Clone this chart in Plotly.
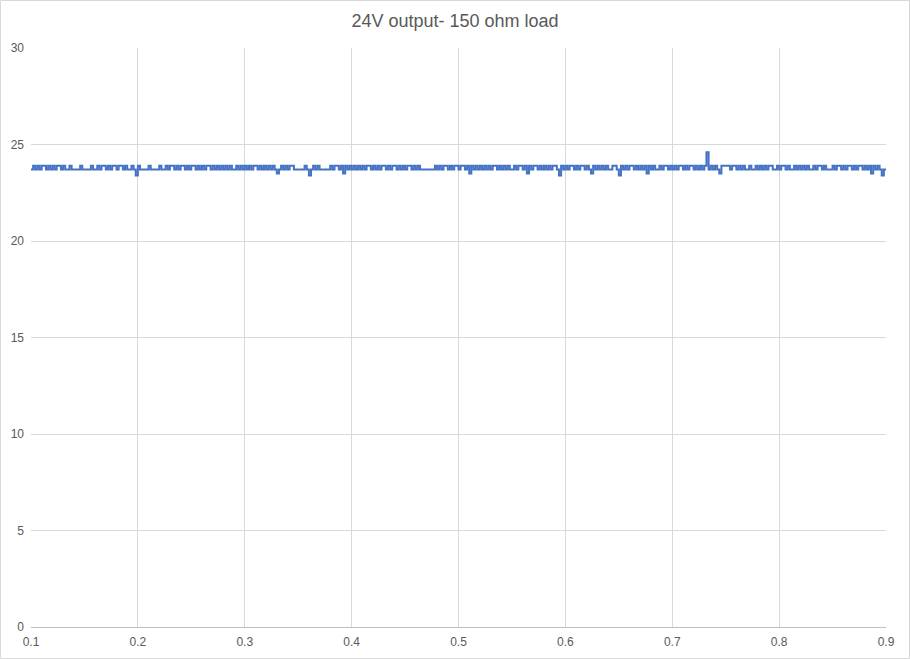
import plotly.graph_objects as go

title_text = "24V output- 150 ohm load"
x_start = 0.1
x_step = 0.002

voltage = [
    23.7, 23.9, 23.7, 23.9, 23.7, 23.9, 23.9, 23.7, 23.9, 23.7,
    23.9, 23.7, 23.9, 23.9, 23.7, 23.9, 23.7, 23.7, 23.9, 23.7,
    23.7, 23.7, 23.7, 23.9, 23.7, 23.7, 23.7, 23.7, 23.9, 23.7,
    23.7, 23.9, 23.7, 23.9, 23.9, 23.7, 23.9, 23.7, 23.9, 23.9,
    23.7, 23.9, 23.9, 23.7, 23.9, 23.7, 23.7, 23.9, 23.7, 23.4,
    23.9, 23.7, 23.7, 23.7, 23.7, 23.9, 23.7, 23.7, 23.7, 23.7,
    23.9, 23.7, 23.7, 23.9, 23.7, 23.9, 23.9, 23.7, 23.9, 23.7,
    23.9, 23.9, 23.7, 23.9, 23.7, 23.9, 23.9, 23.7, 23.9, 23.7,
    23.9, 23.7, 23.9, 23.9, 23.7, 23.9, 23.7, 23.9, 23.7, 23.9,
    23.7, 23.9, 23.7, 23.9, 23.7, 23.7, 23.9, 23.7, 23.9, 23.7,
    23.9, 23.7, 23.9, 23.7, 23.9, 23.9, 23.7, 23.9, 23.7, 23.9,
    23.7, 23.9, 23.7, 23.9, 23.7, 23.5, 23.7, 23.9, 23.7, 23.9,
    23.7, 23.9, 23.9, 23.7, 23.7, 23.7, 23.7, 23.7, 23.9, 23.7,
    23.4, 23.7, 23.9, 23.7, 23.9, 23.7, 23.7, 23.7, 23.7, 23.7,
    23.9, 23.7, 23.9, 23.9, 23.7, 23.9, 23.5, 23.9, 23.7, 23.9,
    23.7, 23.9, 23.7, 23.9, 23.7, 23.9, 23.7, 23.9, 23.9, 23.7,
    23.9, 23.7, 23.9, 23.7, 23.9, 23.9, 23.7, 23.9, 23.7, 23.9,
    23.9, 23.7, 23.9, 23.7, 23.9, 23.7, 23.9, 23.9, 23.7, 23.9,
    23.7, 23.9, 23.7, 23.7, 23.7, 23.7, 23.7, 23.7, 23.7, 23.9,
    23.7, 23.9, 23.7, 23.9, 23.9, 23.7, 23.9, 23.7, 23.9, 23.9,
    23.7, 23.9, 23.9, 23.7, 23.9, 23.5, 23.9, 23.7, 23.9, 23.7,
    23.9, 23.7, 23.9, 23.7, 23.9, 23.7, 23.9, 23.9, 23.7, 23.9,
    23.7, 23.9, 23.7, 23.9, 23.7, 23.7, 23.9, 23.7, 23.9, 23.9,
    23.7, 23.9, 23.5, 23.9, 23.7, 23.9, 23.9, 23.7, 23.9, 23.7,
    23.9, 23.7, 23.9, 23.7, 23.9, 23.9, 23.7, 23.4, 23.9, 23.7,
    23.9, 23.7, 23.9, 23.9, 23.7, 23.9, 23.7, 23.9, 23.9, 23.7,
    23.9, 23.7, 23.5, 23.9, 23.7, 23.9, 23.7, 23.9, 23.7, 23.9,
    23.7, 23.7, 23.9, 23.9, 23.7, 23.4, 23.9, 23.7, 23.9, 23.7,
    23.9, 23.9, 23.7, 23.9, 23.7, 23.9, 23.7, 23.9, 23.5, 23.9,
    23.7, 23.9, 23.7, 23.7, 23.9, 23.7, 23.9, 23.9, 23.7, 23.9,
    23.7, 23.9, 23.7, 23.9, 23.9, 23.7, 23.9, 23.7, 23.9, 23.9,
    23.7, 23.9, 23.7, 23.9, 23.7, 23.9, 24.6, 23.7, 23.9, 23.7,
    23.9, 23.7, 23.5, 23.9, 23.9, 23.9, 23.9, 23.7, 23.9, 23.9,
    23.7, 23.9, 23.7, 23.9, 23.7, 23.7, 23.9, 23.7, 23.7, 23.9,
    23.7, 23.9, 23.7, 23.9, 23.7, 23.9, 23.9, 23.7, 23.7, 23.9,
    23.7, 23.9, 23.9, 23.7, 23.9, 23.7, 23.7, 23.9, 23.7, 23.9,
    23.7, 23.9, 23.7, 23.9, 23.7, 23.7, 23.9, 23.7, 23.9, 23.9,
    23.7, 23.9, 23.7, 23.7, 23.7, 23.9, 23.7, 23.9, 23.9, 23.7,
    23.9, 23.7, 23.9, 23.9, 23.7, 23.9, 23.7, 23.9, 23.9, 23.7,
    23.9, 23.7, 23.9, 23.5, 23.9, 23.7, 23.9, 23.7, 23.4, 23.7,
    23.7,
]
time_s = [round(x_start + i * x_step, 4) for i in range(len(voltage))]

x_ticks = [0.1, 0.2, 0.3, 0.4, 0.5, 0.6, 0.7, 0.8, 0.9]
x_tick_labels = ["0.1", "0.2", "0.3", "0.4", "0.5", "0.6", "0.7", "0.8", "0.9"]
y_ticks = [0, 5, 10, 15, 20, 25, 30]
y_tick_labels = ["0", "5", "10", "15", "20", "25", "30"]

W, H = 910, 659
ML, MR, MT, MB = 31, 24, 48, 32

fig = go.Figure()
fig.add_trace(go.Scatter(
    x=time_s, y=voltage, mode="lines",
    line=dict(color="#4472C4", width=2, shape="hv"),
    showlegend=False, hoverinfo="x+y",
))

font_family = "Liberation Sans Narrow, Liberation Sans, Arial, sans-serif"
pw = W - ML - MR
ph = H - MT - MB

fig.update_layout(
    width=W, height=H,
    margin=dict(l=ML, r=MR, t=MT, b=MB, autoexpand=False),
    paper_bgcolor="white", plot_bgcolor="white",
    title=dict(text=title_text, x=0.5, xanchor="center", y=1 - 21 / H, yanchor="middle",
               font=dict(family=font_family, size=18, color="#595959")),
    font=dict(family=font_family, size=12, color="#595959"),
    xaxis=dict(range=[0.1, 0.9], tickvals=x_ticks, ticktext=x_tick_labels,
               showgrid=True, gridcolor="#D9D9D9", gridwidth=1,
               zeroline=False, showline=True, linecolor="#BFBFBF", linewidth=1,
               ticks="", ticklabelstandoff=4, tickfont=dict(size=12, color="#595959")),
    yaxis=dict(range=[0, 30], tickvals=y_ticks, ticktext=y_tick_labels,
               showgrid=True, gridcolor="#D9D9D9", gridwidth=1,
               zeroline=False, showline=False, ticks="", ticklabelstandoff=6,
               tickfont=dict(size=12, color="#595959")),
    shapes=[dict(type="rect", xref="paper", yref="paper",
                 x0=(0.5 - ML) / pw, x1=(W - 0.5 - ML) / pw,
                 y0=(0.5 - MB) / ph, y1=(H - 0.5 - MB) / ph,
                 line=dict(color="#D9D9D9", width=1), layer="below")],
)

fig.write_html(
    "out.html",
    config={"displayModeBar": False},
    post_script="document.body.style.margin='0px';document.body.style.overflow='hidden';",
)
